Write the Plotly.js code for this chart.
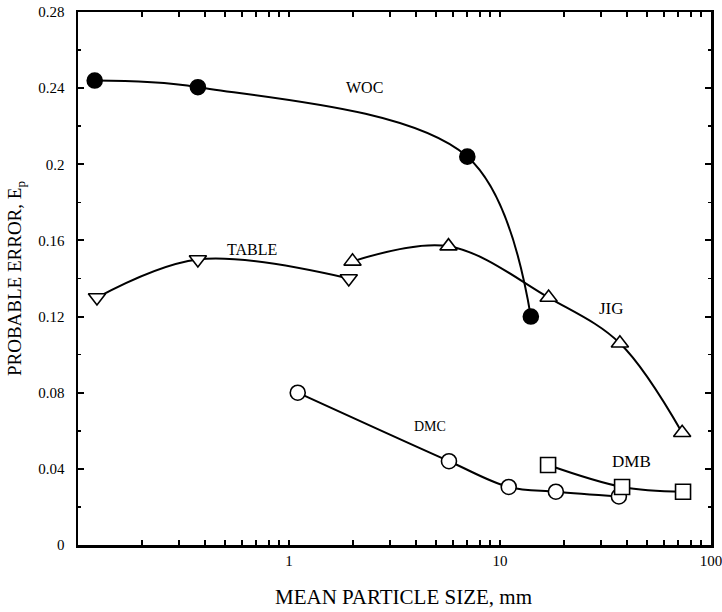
<!DOCTYPE html>
<html>
<head>
<meta charset="utf-8">
<script src="https://cdn.plot.ly/plotly-3.0.1.min.js"></script>
<style>html,body{margin:0;padding:0;background:#fff;}#chart{width:722px;height:612px;}</style>
</head>
<body>
<div id="chart"></div>
<script>
// Data
var wocX = [0.12, 0.37, 7.0, 14.0];
var wocY = [0.244, 0.2405, 0.204, 0.120];

var tableX = [0.123, 0.37, 1.92];
var tableY = [0.130, 0.150, 0.140];

var jigX = [2.0, 5.7, 17.0, 37.0, 73.0];
var jigY = [0.149, 0.157, 0.130, 0.106, 0.059];

var dmcX = [1.1, 5.73, 11.0, 18.4, 36.6];
var dmcY = [0.080, 0.044, 0.0305, 0.028, 0.0255];

var dmbX = [16.9, 37.9, 73.7];
var dmbY = [0.042, 0.0305, 0.028];

var xMajorVals = [1, 10, 100];
var xMajorText = ['1', '10', '100'];

var seriesLabels = [
  {text: 'WOC', x: 2.29, y: 0.2401, size: 16},
  {text: 'TABLE', x: 0.668, y: 0.155, size: 16},
  {text: 'JIG', x: 33.6, y: 0.124, size: 17},
  {text: 'DMC', x: 4.66, y: 0.062, size: 14},
  {text: 'DMB', x: 42.1, y: 0.0441, size: 17}
];

var FONT = 'Liberation Serif, Times New Roman, serif';

// tick positions on the log axis: majors labelled, intermediate digits unlabeled
var xTickVals = [], xTickText = [];
[0.1, 1, 10].forEach(function (d) {
  for (var k = 2; k <= 9; k++) { xTickVals.push(d * k); xTickText.push(''); }
});
xMajorVals.forEach(function (v, i) { xTickVals.push(v); xTickText.push(xMajorText[i]); });

function series(x, y, symbol, fill) {
  return {
    x: x, y: y, type: 'scatter', mode: 'lines+markers',
    line: {color: '#000', width: 2, shape: 'spline', smoothing: 1},
    marker: {symbol: symbol, size: 15, color: fill ? '#000' : '#fff',
             line: {color: '#000', width: 1.6}},
    hoverinfo: 'skip', showlegend: false, cliponaxis: false
  };
}

var data = [
  series(wocX, wocY, 'circle', true),
  series(tableX, tableY, 'triangle-down', false),
  series(jigX, jigY, 'triangle-up', false),
  series(dmcX, dmcY, 'circle', false),
  series(dmbX, dmbY, 'square', false)
];

var annotations = seriesLabels.map(function (s) {
  return {x: Math.log10(s.x), y: s.y, xref: 'x', yref: 'y', text: s.text,
          showarrow: false, font: {family: FONT, size: s.size, color: '#000'}};
});
annotations.push({
  x: 0.515, y: -0.0976, xref: 'paper', yref: 'paper', xanchor: 'center', yanchor: 'middle',
  text: 'MEAN PARTICLE SIZE, mm', showarrow: false,
  font: {family: FONT, size: 21, color: '#000'}
});

var layout = {
  width: 722, height: 612,
  margin: {l: 78, r: 11, t: 12, b: 67},
  paper_bgcolor: '#fff', plot_bgcolor: '#fff',
  font: {family: FONT, color: '#000', size: 15},
  showlegend: false,
  xaxis: {
    type: 'log', range: [-1, 2],
    tickmode: 'array', tickvals: xTickVals, ticktext: xTickText,
    ticks: 'inside', ticklen: 5, tickwidth: 2, tickcolor: '#000',
    ticklabeloverflow: 'allow',
    showline: true, linecolor: '#000', linewidth: 2.5, mirror: 'ticks',
    showgrid: false, zeroline: false,
    tickfont: {family: FONT, size: 15, color: '#000'}
  },
  yaxis: {
    range: [0, 0.28],
    tickmode: 'linear', tick0: 0, dtick: 0.04,
    ticks: 'inside', ticklen: 6, tickwidth: 2, tickcolor: '#000',
    minor: {dtick: 0.02, ticks: 'inside', ticklen: 3, tickwidth: 1.5, tickcolor: '#000', showgrid: false},
    showline: true, linecolor: '#000', linewidth: 2.5, mirror: 'ticks',
    showgrid: false, zeroline: false,
    ticklabelstandoff: 8,
    tickfont: {family: FONT, size: 15, color: '#000'},
    title: {text: 'PROBABLE ERROR, E<sub>p</sub>', font: {family: FONT, size: 19, color: '#000'}, standoff: 12}
  },
  annotations: annotations
};

Plotly.newPlot('chart', data, layout, {staticPlot: true, displayModeBar: false});
</script>
</body>
</html>
